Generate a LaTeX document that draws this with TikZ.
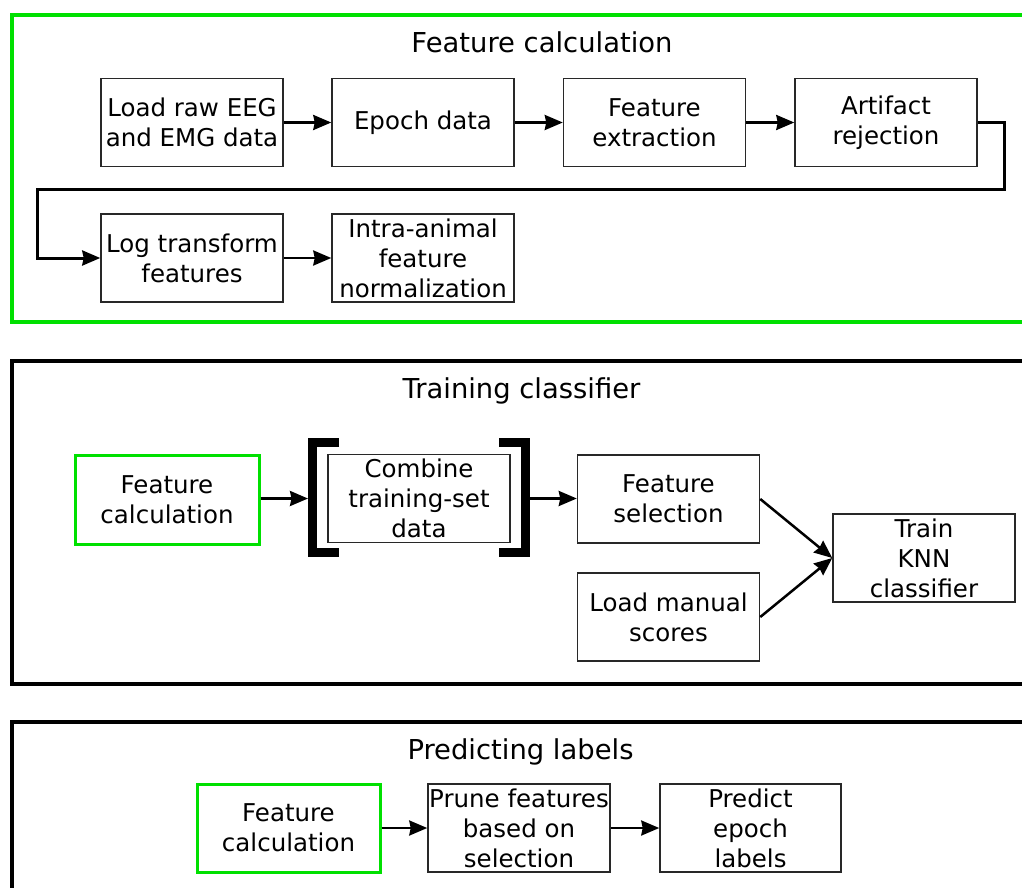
\documentclass[tikz,border=0pt]{standalone}
\usepackage{fontspec}
\setmainfont{DejaVu Sans}
\usetikzlibrary{arrows.meta}
\definecolor{fgreen}{RGB}{0,224,0}
\definecolor{boxline}{RGB}{40,40,40}
\newcommand{\boxfont}{\fontsize{24.5}{30}\selectfont}
\newcommand{\titlefont}{\fontsize{27.4}{33}\selectfont}
\tikzset{
  stepbox/.style={draw=boxline, line width=1.5pt, minimum width=182pt, minimum height=88pt,
    inner sep=0pt, align=center, font=\boxfont},
  greenbox/.style={stepbox, draw=fgreen, line width=3pt},
  panelgreen/.style={draw=fgreen, line width=4pt},
  panelblack/.style={draw=black, line width=4pt},
  ptitle/.style={font=\titlefont, inner sep=0pt, anchor=base},
  conn/.style={line width=2.5pt, arrows={-Stealth[length=18pt,width=15pt,inset=1.5pt]}},
  brk/.style={line width=9pt, miter limit=10}
}
\begin{document}
\begin{tikzpicture}[x=1pt,y=-1pt]
\useasboundingbox (0,0) rectangle (1022,888);
\clip (0,0) rectangle (1022,888);
\fill[white] (0,0) rectangle (1022,888);

% ---------- Panel 1: Feature calculation ----------
\draw[panelgreen] (12,15) rectangle (1060,322);
\node[ptitle] (t1) at (542,52.5) {Feature calculation};
\node[stepbox] (load) at (192,122.5) {Load raw EEG\\and EMG data};
\node[stepbox] (epoch) at (423,122.5) {Epoch data};
\node[stepbox] (fext) at (654.5,122.5) {Feature\\extraction};
\node[stepbox] (art) at (886,122.5) {Artifact\\rejection};
\node[stepbox] (logt) at (192,258) {Log transform\\features};
\node[stepbox] (norm) at (423,258) {Intra-animal\\feature\\normalization};
\draw[conn] (load) -- (epoch);
\draw[conn] (epoch) -- (fext);
\draw[conn] (fext) -- (art);
\coordinate (c1) at (1004.5,189);
\coordinate (c2) at (37,189);
\draw[conn, line width=3pt] (art.east) -| (c1) -- (c2) |- (logt.west);
\draw[conn] (logt) -- (norm);

% ---------- Panel 2: Training classifier ----------
\draw[panelblack] (12,361) rectangle (1060,684);
\node[ptitle] (t2) at (521.5,398) {Training classifier};
\node[greenbox, minimum width=184pt, minimum height=89pt] (fc2) at (167,499.5) {Feature\\calculation};
\node[stepbox] (comb) at (419,498.5) {Combine\\training-set\\data};
\draw[brk] (339,442.5) -- (312.5,442.5) -- (312.5,552.5) -- (339,552.5);
\draw[brk] (499,442.5) -- (525.5,442.5) -- (525.5,552.5) -- (499,552.5);
\coordinate (lb) at (308,498.5);
\coordinate (rb) at (530,498.5);
\node[stepbox] (fsel) at (668.5,499) {Feature\\selection};
\node[stepbox] (lms) at (668.5,617) {Load manual\\scores};
\node[stepbox] (knn) at (924,558) {Train\\KNN\\classifier};
\draw[conn] (fc2.east |- lb) -- (lb);
\draw[conn] (rb) -- (fsel.west |- rb);
\draw[conn] (fsel.east) -- (knn.west);
\draw[conn] (lms.east) -- (knn.west);

% ---------- Panel 3: Predicting labels ----------
\draw[panelblack] (12,722) rectangle (1060,920);
\node[ptitle] (t3) at (520.5,759) {Predicting labels};
\node[greenbox, minimum width=183pt] (fc3) at (288.5,828) {Feature\\calculation};
\node[stepbox] (prune) at (519,828) {Prune features\\based on\\selection};
\node[stepbox, minimum width=181pt] (pred) at (750.5,828) {Predict\\epoch\\labels};
\draw[conn] (fc3) -- (prune);
\draw[conn] (prune) -- (pred);
\end{tikzpicture}
\end{document}
